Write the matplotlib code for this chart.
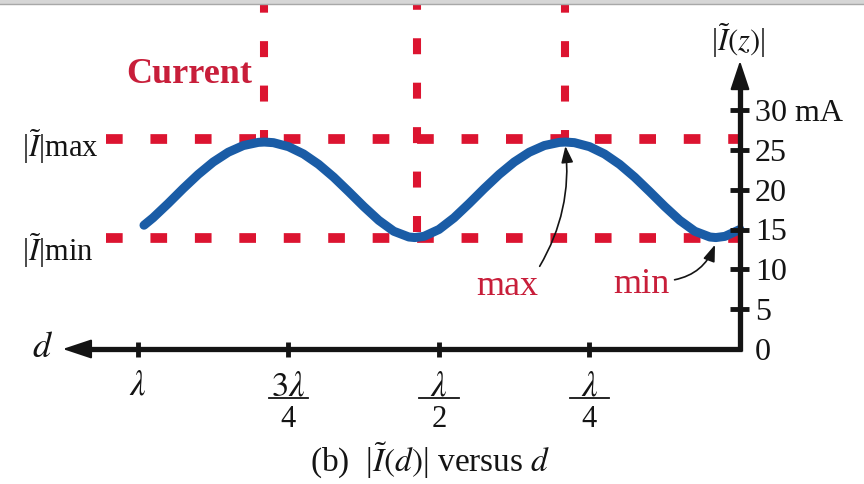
import numpy as np
import matplotlib
matplotlib.use('Agg')
import matplotlib.pyplot as plt
from matplotlib.patches import Rectangle

plt.rcParams['font.family'] = ['Liberation Serif', 'DejaVu Serif']
plt.rcParams['mathtext.fontset'] = 'stix'
plt.rcParams['lines.scale_dashes'] = False

# |I(d)|, d in wavelengths, current in mA
d_vals = [0.0, 0.025, 0.04, 0.05, 0.075, 0.10, 0.125, 0.15, 0.175, 0.20, 0.225, 0.25,
          0.275, 0.29, 0.30, 0.325, 0.35, 0.375, 0.40, 0.425, 0.45, 0.475, 0.50, 0.525,
          0.54, 0.55, 0.575, 0.60, 0.625, 0.65, 0.675, 0.70, 0.725, 0.75, 0.775, 0.79,
          0.80, 0.825, 0.85, 0.875, 0.90, 0.925, 0.95, 0.975, 0.99]
i_vals = [15.02, 14.15, 14.0, 14.07, 14.79, 16.16, 17.90, 19.77, 21.59, 23.20, 24.50, 25.42,
          25.92, 26.0, 25.96, 25.56, 24.72, 23.49, 21.93, 20.15, 18.27, 16.48, 15.02, 14.15,
          14.0, 14.07, 14.79, 16.16, 17.90, 19.77, 21.59, 23.20, 24.50, 25.42, 25.92, 26.0,
          25.96, 25.56, 24.72, 23.49, 21.93, 20.15, 18.27, 16.48, 15.55]

i_max_line = 26.35
i_min_line = 13.95
max_positions = [0.79, 0.29]
min_position = 0.5365

d_ticks = [1.0, 0.75, 0.5, 0.25]
d_tick_num = [r'$\lambda$', r'$3\lambda$', r'$\lambda$', r'$\lambda$']
d_tick_den = ['', '4', '2', '4']

i_ticks = [0, 5, 10, 15, 20, 25, 30]
i_tick_labels = ['0', '5', '10', '15', '20', '25', '30 mA']

red = '#dc1430'
text_red = '#c81e3a'
blue = '#1a5ca6'
black = '#141414'

fig = plt.figure(figsize=(8.64, 4.85), dpi=100)
ax = fig.add_axes([0, 0, 1, 1])
ax.set_xlim(1.2292, -0.2060)
ax.set_ylim(-16.96, 43.97)
ax.axis('off')

# grey window edge at the top
fig.patches.append(Rectangle((0, 1 - 4 / 485), 1, 4 / 485, transform=fig.transFigure,
                             color='#d6d6d6', zorder=0))
fig.add_artist(plt.Line2D([0, 1], [1 - 4.5 / 485] * 2, color='#a8a8a8', lw=1))

# dashed guide lines
ax.plot([1.053, 0.0], [i_max_line] * 2, color=red, lw=7, dashes=(12, 20),
        solid_capstyle='butt', dash_capstyle='butt', zorder=2)
ax.plot([1.053, 0.0], [i_min_line] * 2, color=red, lw=7, dashes=(12, 20),
        solid_capstyle='butt', dash_capstyle='butt', zorder=2)
for dp in max_positions:
    ax.plot([dp, dp], [i_max_line - 0.9, 45], color=red, lw=5.8, dashes=(11.5, 20.5),
            dash_capstyle='butt', zorder=2)
ax.plot([min_position, min_position], [14.7, 45], color=red, lw=5.8, dashes=(11.5, 20.5),
        dash_capstyle='butt', zorder=2)

# the current curve
ax.plot(d_vals, i_vals, color=blue, lw=6.5, solid_capstyle='round', zorder=3)

# axes with arrows
ax.plot([-0.004, 1.08], [0, 0], color=black, lw=3.8, solid_capstyle='butt', zorder=4)
ax.plot([0, 0], [-0.3, 34.0], color=black, lw=3.8, solid_capstyle='butt', zorder=4)
ax.annotate('', xy=(1.125, 0), xytext=(1.07, 0),
            arrowprops=dict(arrowstyle='-|>,head_length=0.9,head_width=0.3', color=black,
                            lw=1.5, mutation_scale=20, shrinkA=0, shrinkB=0), zorder=4)
ax.annotate('', xy=(0, 36.2), xytext=(0, 33.5),
            arrowprops=dict(arrowstyle='-|>,head_length=0.9,head_width=0.3', color=black,
                            lw=1.5, mutation_scale=20, shrinkA=0, shrinkB=0), zorder=4)

# ticks on d axis
for dt, num, den in zip(d_ticks, d_tick_num, d_tick_den):
    ax.plot([dt, dt], [0.9, -1.0], color=black, lw=3.5, solid_capstyle='butt', zorder=4)
    if den:
        ax.text(dt, -4.6, num, ha='center', va='center', fontsize=25, color=black)
        ax.plot([dt - 0.033, dt + 0.033], [-6.2, -6.2], color=black, lw=1.3)
        ax.text(dt, -8.7, den, ha='center', va='center', fontsize=22, color=black)
    else:
        ax.text(dt, -4.5, num, ha='center', va='center', fontsize=25, color=black)

# ticks on current axis
for it, lab in zip(i_ticks, i_tick_labels):
    if it > 0:
        ax.plot([0.0166, -0.015], [it, it], color=black, lw=3.5, solid_capstyle='butt', zorder=4)
    ax.text(-0.0249, it - 0.3, lab, ha='left', va='center', fontsize=23, color=black)

# axis names
ax.text(1.158, 0.2, r'$d$', ha='center', va='center', fontsize=26, color=black)
ax.text(0.003, 38.9, r'|$\tilde{I}(z)$|', ha='center', va='center',
        fontsize=22, color=black)

# left labels
ax.text(1.193, 24.2, r'|$\tilde{I}$|max', ha='left', va='baseline',
        fontsize=22, color=black)
ax.text(1.193, 11.2, r'|$\tilde{I}$|min', ha='left', va='baseline',
        fontsize=22, color=black)

ax.text(1.0199, 33.5, 'Current', ha='left', va='baseline', fontsize=26,
        fontweight='bold', color=text_red)

# annotations
ax.annotate('max', xy=(0.290, 25.5), xytext=(0.387, 6.9),
            ha='center', va='baseline', fontsize=26, color=text_red,
            arrowprops=dict(arrowstyle='-|>,head_length=0.5,head_width=0.18', color=black,
                            lw=1.2, mutation_scale=20, shrinkA=0, shrinkB=0,
                            connectionstyle='arc3,rad=0.17', relpos=(1.0, 1.0)))
ax.annotate('min', xy=(0.0415, 13.1), xytext=(0.1645, 7.1),
            ha='center', va='baseline', fontsize=26, color=text_red,
            arrowprops=dict(arrowstyle='-|>,head_length=0.5,head_width=0.18', color=black,
                            lw=1.2, mutation_scale=20, shrinkA=2, shrinkB=0,
                            connectionstyle='arc3,rad=0.3', relpos=(1.0, 0.6)))

# caption
ax.text(0.515, -15.3, r'(b)  |$\tilde{I}(d)$| versus $d$', ha='center',
        va='baseline', fontsize=24, color=black)

fig.savefig('out.png', dpi=100)
